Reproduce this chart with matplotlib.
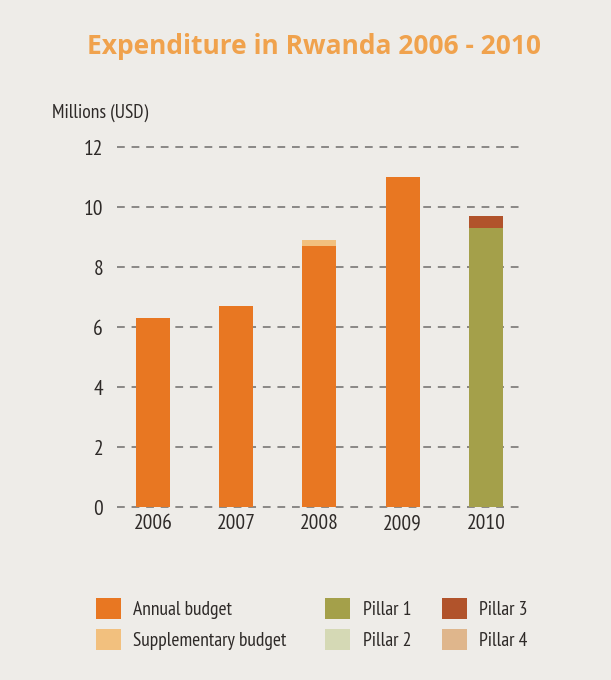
import matplotlib
matplotlib.use("Agg")
import numpy as np
import matplotlib.pyplot as plt
from matplotlib.patches import Patch

# Data (millions USD)
years = ["2006", "2007", "2008", "2009", "2010"]
annual = [6.3, 6.7, 8.7, 11.0, 0.0]
supplementary = [0.0, 0.0, 0.2, 0.0, 0.0]
pillar1 = [0.0, 0.0, 0.0, 0.0, 9.3]
pillar2 = [0.0, 0.0, 0.0, 0.0, 0.0]
pillar3 = [0.0, 0.0, 0.0, 0.0, 0.4]
pillar4 = [0.0, 0.0, 0.0, 0.0, 0.0]
yticks = [0, 2, 4, 6, 8, 10, 12]

c_annual = "#e87722"
c_supp = "#f2c07e"
c_p1 = "#a4a04a"
c_p2 = "#d5d9b5"
c_p3 = "#b1532b"
c_p4 = "#dfb68c"
bg = "#eeece8"
txt = "#2e2a28"

plt.rcParams['font.family'] = ['PT Sans Narrow', 'DejaVu Sans']

fig = plt.figure(figsize=(6.11, 6.80), dpi=100)
fig.patch.set_facecolor(bg)
ax = fig.add_axes([0.1915, 0.2544, 0.6595, 0.5294])
ax.set_facecolor(bg)

x = np.arange(len(years))
w = 0.41
series = [(annual, c_annual), (supplementary, c_supp), (pillar1, c_p1),
          (pillar2, c_p2), (pillar3, c_p3), (pillar4, c_p4)]
bottom = np.zeros(len(years))
for vals, col in series:
    vals = np.array(vals)
    ax.bar(x, vals, w, bottom=bottom, color=col, zorder=3, linewidth=0)
    bottom += vals

ax.set_ylim(0, 12)
ax.set_xlim(-0.432, 4.41)
ax.set_yticks(yticks)
ax.set_yticklabels([str(t) for t in yticks])
ax.set_xticks(x)
ax.set_xticklabels(years)
for t in yticks:
    ax.axhline(t, color="#8a8886", lw=1.4, ls=(0, (4, 3.5)), zorder=1, clip_on=False)
for s in ax.spines.values():
    s.set_visible(False)
ax.tick_params(axis='both', length=0, labelsize=15.5, colors=txt)
ax.tick_params(axis='y', pad=10)
ax.tick_params(axis='x', pad=5)

fig.text(0.514, 0.931, "Expenditure in Rwanda 2006 - 2010", ha='center', va='center',
         fontsize=19, fontweight='bold', color="#f0a24d", family=['Open Sans', 'DejaVu Sans'])
fig.text(0.085, 0.834, "Millions (USD)", ha='left', va='center', fontsize=14, color=txt)

groups = [
    (["Annual budget", "Supplementary budget"], [c_annual, c_supp], 0.157),
    (["Pillar 1", "Pillar 2"], [c_p1, c_p2], 0.532),
    (["Pillar 3", "Pillar 4"], [c_p3, c_p4], 0.723),
]
for labels, cols, xpos in groups:
    handles = [Patch(facecolor=c, edgecolor='none') for c in cols]
    fig.legend(handles, labels, loc='upper left', bbox_to_anchor=(xpos, 0.121),
               bbox_transform=fig.transFigure, frameon=False, fontsize=14,
               handlelength=1.28, handleheight=1.28, handletextpad=0.65,
               labelspacing=0.55, borderpad=0, borderaxespad=0, labelcolor=txt)

fig.savefig("out.png", dpi=100, facecolor=bg)
